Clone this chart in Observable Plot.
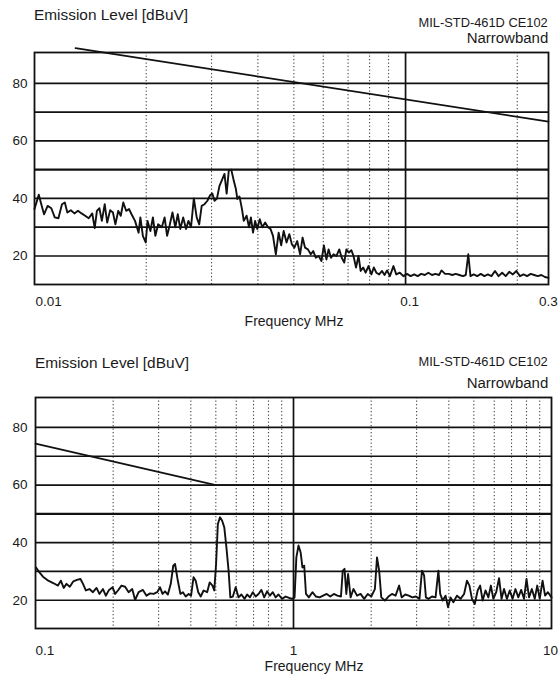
<!DOCTYPE html>
<html>
<head>
<meta charset="utf-8">
<script src="https://cdn.jsdelivr.net/npm/d3@7"></script>
<script src="https://cdn.jsdelivr.net/npm/@observablehq/plot@0.6"></script>
<style>
  html, body { margin: 0; padding: 0; background: #fff; }
  #page { position: relative; width: 559px; height: 677px; overflow: hidden; font-family: "Liberation Sans", Arial, sans-serif; color: #1a1a1a; }
  .panel { position: absolute; left: 0; }
  .t { position: absolute; white-space: nowrap; line-height: 1; }
  .l { transform-origin: left top; transform: scaleX(1.1); }
  .r { transform-origin: right top; transform: scaleX(1.07); }
</style>
</head>
<body>
<div id="page">
  <div id="top" class="panel" style="top:0px"></div>
  <div id="bottom" class="panel" style="top:338px"></div>

  <div class="t l" style="left:34px; top:7.5px; font-size:14px;">Emission Level [dBuV]</div>
  <div class="t r" style="right:11px; top:16.5px; font-size:12px;">MIL-STD-461D CE102</div>
  <div class="t r" style="right:11px; top:31px; font-size:14px;">Narrowband</div>
  <div class="t" style="left:294px; transform:translateX(-50%); top:314px; font-size:14px;">Frequency MHz</div>

  <div class="t l" style="left:35px; top:355.5px; font-size:14px;">Emission Level [dBuV]</div>
  <div class="t r" style="right:11px; top:356px; font-size:12px;">MIL-STD-461D CE102</div>
  <div class="t r" style="right:11px; top:376px; font-size:14px;">Narrowband</div>
  <div class="t" style="left:314px; transform:translateX(-50%); top:659px; font-size:14px;">Frequency MHz</div>
</div>
<script>
// ---------- Top panel (10 kHz – 0.24 MHz) ----------
const topFreq = [
  0.0100,0.01027,0.01043,0.01061,0.01085,0.01110,0.01134,0.01160,0.01186,0.01207,
  0.01226,0.01253,0.01281,0.01310,0.01339,0.01369,0.01400,0.01431,0.01453,0.01473,
  0.01496,0.01519,0.01546,0.01570,0.01599,0.01627,0.01652,0.01682,0.01708,0.01735,
  0.01766,0.01798,0.01826,0.01866,0.01908,0.01929,0.01959,0.01994,0.02017,0.02053,
  0.02085,0.02117,0.02154,0.02203,0.02242,0.02277,0.02313,0.02354,0.02396,0.02433,
  0.02471,0.02516,0.02561,0.02600,0.02641,0.02688,0.02736,0.02779,0.02822,0.02872,
  0.02924,0.02969,0.03015,0.03056,0.03103,0.03152,0.03208,0.03251,0.03295,0.03339,
  0.03391,0.03443,0.03489,0.03521,0.03568,0.03624,0.03664,0.03729,0.03787,0.03830,
  0.03881,0.03932,0.03985,0.04047,0.04110,0.04184,0.04259,0.04325,0.04393,0.04471,
  0.04550,0.04622,0.04694,0.04778,0.04862,0.04939,0.05016,0.05105,0.05197,0.05278,
  0.05360,0.05456,0.05553,0.05640,0.05728,0.05830,0.05934,0.06026,0.06119,0.06202,
  0.06298,0.06397,0.06510,0.06627,0.06730,0.06836,0.06926,0.07036,0.07145,0.07240,
  0.07354,0.07468,0.07568,0.07686,0.07806,0.07945,0.08088,0.08213,0.08341,0.08491,
  0.08642,0.08777,0.08916,0.09073,0.09276,0.09441,0.09652,0.09867,0.1009,0.1032,
  0.1055,0.1078,0.1102,0.1127,0.1152,0.1178,0.1204,0.1231,0.1250,0.1278,
  0.1307,0.1336,0.1366,0.1396,0.1428,0.1453,0.1476,0.1496,0.1526,0.1560,
  0.1595,0.1631,0.1667,0.1704,0.1742,0.1781,0.1821,0.1862,0.1903,0.1946,
  0.1989,0.2034,0.2080,0.2126,0.2174,0.2222,0.2272,0.2323,0.2375,0.2428
];
const topLevel = [
  36.3,41.3,38,34.5,37.4,36.6,33.4,33.1,38,38.6,
  35.1,35.9,34.8,35.7,34.8,34,33.1,34.8,29.7,35.7,
  36.6,32.2,38,31.6,35.9,35.1,31,35.7,34,38.6,
  35.7,36.3,34.5,32.2,28.1,33.4,27,24.7,32.2,28.7,
  33.4,27,31,30,33.4,27,30.6,35.1,30,34.5,
  29.4,33.4,29.4,32.2,30,40,33.4,31,37.4,38,
  39.2,41,41.7,39.2,40,44.4,46.7,48.5,41.7,49.7,
  50,46.2,43.3,39.8,40.7,36.3,32.2,34,30,33.4,
  28.1,32.2,29.4,32.8,30,31.6,30,29.4,27,20.6,
  28.1,23.7,28.7,24.7,27.6,24.1,22.9,25.2,20.6,26.4,
  22.9,22.3,20.6,21.7,19.4,20,18.3,23.7,18.8,22.3,
  19.4,20.6,20,22.3,19.4,17.7,22.3,21.2,22,20,
  16,20,14.8,16,14.2,16.5,13.6,16,14.2,13.6,
  14.8,13.4,15,13,16.5,13.6,14.2,13,13.8,13,
  13.6,13,13.8,13.4,14.2,13.4,13.8,13.4,15,13.8,
  13.8,13.4,13.8,13.4,13,13.4,20.6,13,13.6,13,
  13.8,13,13.6,13,14.8,13,14.2,13,14.5,13.6,
  14.8,13,13.6,13,13.8,13.4,13,13.4,12.7,12.4
];
const topLimitFreq = [0.0129, 0.2428];
const topLimitLevel = [92.2, 66.7];
const topXDomain = [0.01, 0.2428];
const topYDomain = [10.1, 90.7];
const topMinorX = [0.02,0.03,0.04,0.05,0.06,0.07,0.08,0.09,0.2];
const topMajorX = [0.1];
const topTickValues = [0.01, 0.1, 0.2428];
const topTickLabels = ["0.01", "0.1", "0.3"];

// ---------- Bottom panel (0.1 – 10 MHz) ----------
const botFreq = [
  0.1003,0.1036,0.1069,0.1121,0.1176,0.1222,0.1254,0.1286,0.1319,0.1358,
  0.1402,0.1447,0.1494,0.1528,0.1567,0.1618,0.1670,0.1724,0.1769,0.1826,
  0.1873,0.1928,0.1990,0.2035,0.2087,0.2154,0.2225,0.2296,0.2371,0.2432,
  0.2510,0.2608,0.2693,0.2780,0.2870,0.2962,0.3039,0.3108,0.3178,0.3259,
  0.3344,0.3419,0.3474,0.3552,0.3644,0.3726,0.3822,0.3921,0.4009,0.4099,
  0.4178,0.4273,0.4369,0.4482,0.4627,0.4732,0.4853,0.4931,0.5011,0.5091,
  0.5189,0.5290,0.5392,0.5495,0.5602,0.5691,0.5820,0.5969,0.6124,0.6282,
  0.6464,0.6610,0.6781,0.6955,0.7135,0.7319,0.7507,0.7701,0.7899,0.8103,
  0.8312,0.8526,0.8747,0.9030,0.9324,0.9626,0.9874,1.0095,1.0259,1.0457,
  1.0658,1.0830,1.1003,1.1179,1.1469,1.1839,1.2222,1.2618,1.3027,1.3448,
  1.3884,1.4333,1.4797,1.5276,1.5521,1.5770,1.6023,1.6280,1.6647,1.7078,
  1.7631,1.8197,1.8789,1.9396,2.0023,2.0673,2.1072,2.1478,2.1889,2.2600,
  2.3331,2.4085,2.4868,2.5672,2.6251,2.7101,2.7976,2.8886,2.9819,3.0782,
  3.1477,3.2085,3.2599,3.3335,3.4420,3.5532,3.6443,3.7035,3.7863,3.8842,
  3.9719,4.0616,4.1658,4.3010,4.4400,4.5836,4.7021,4.8083,4.9169,5.0431,
  5.1734,5.2902,5.4097,5.5485,5.6919,5.8204,5.9519,6.1046,6.2623,6.4037,
  6.5464,6.7155,6.8891,7.0662,7.2488,7.4362,7.6274,7.8246,8.0012,8.1820,
  8.3919,8.6099,8.8044,9.0032,9.2342,9.4428,9.6871,10.0
];
const botLevel = [
  31.4,29.7,28.2,26.8,25.9,25.1,26.8,24.3,25.7,24.7,
  26.6,27.1,27.4,25.7,23.4,23.9,22.8,24.3,22.2,23.9,
  21.6,23.6,24.5,22.2,23.4,25.1,24.7,22.8,23.9,20.1,
  22.8,23.6,21.6,22.4,22.2,22.8,24.5,22.2,23.1,22,
  25.7,32,32.6,27.4,22.2,22.8,21.3,22.2,21.6,28,
  26.8,22.8,21.3,23.4,22.8,26.2,25.1,23.4,32.6,46.5,
  48.8,47.6,45.3,38.4,30.3,21,21.3,24.5,21,22,
  20.5,22,21,22.8,21.3,22.2,23.6,21,23.1,21.6,
  22.8,21,22,20.5,21.3,20.8,20.5,21,34.9,39,
  36.6,31.4,32,22.2,21,22.8,21.3,21,21.6,22.2,
  21.3,22.2,21.6,21.3,30.3,30.9,22.2,29.1,21,23.9,
  21.6,22.2,20.5,22.2,21.3,23.9,34.9,30.3,21,19.9,
  21.3,22.2,21.6,25.1,21,22,21.6,21,21.3,20.5,
  30.3,28.6,21,20.5,21.3,21,30.3,22.2,19.9,21.6,
  17.6,21,19.3,21.6,20.5,22.2,26.8,25.1,20.5,18.7,
  23.4,25.1,19.9,23.4,21,25.1,20.5,22.8,27.7,20.5,
  23.9,20.5,23.4,20.5,23.9,21,23.6,20.5,27.4,21,
  23.9,20.5,25.1,20.5,26.8,21.6,22.8,21
];
const botLimitFreq = [0.1, 0.5, 10];
const botLimitLevel = [74.4, 60, 60];
const botXDomain = [0.1, 10];
const botYDomain = [10.2, 90.4];
const botMinorX = [0.2,0.3,0.4,0.5,0.6,0.7,0.8,0.9,2,3,4,5,6,7,8,9];
const botMajorX = [1];
const botTickValues = [0.1, 1, 10];
const botTickLabels = ["0.1", "1", "10"];

// ---------- shared ----------
const yGrid = [20,30,40,50,60,70,80];
const yTicks = [20,40,60,80];

const zip = (xs, ys) => xs.map((x, i) => ({f: x, v: ys[i]}));

function panel({freq, level, limF, limL, xDomain, yDomain, minorX, majorX, tickValues, tickLabels,
                height, mt, mb, ml, mr, xPad, yPad, firstDx, midDx, lastDx}) {
  const fmt = d => tickLabels[tickValues.indexOf(d)];
  const axisCommon = {tickSize: 0, tickPadding: xPad, label: null, tickFormat: fmt, fontSize: 13.5, fill: "#1a1a1a"};
  return Plot.plot({
    width: 559, height,
    marginTop: mt, marginBottom: mb, marginLeft: ml, marginRight: mr,
    style: {fontFamily: '"Liberation Sans", Arial, sans-serif', background: "white", color: "#1a1a1a", overflow: "visible"},
    x: {type: "log", domain: xDomain},
    y: {domain: yDomain},
    marks: [
      Plot.ruleX(minorX, {stroke: "#444", strokeWidth: 1.1, strokeDasharray: "1.2,2.3"}),
      Plot.ruleX(majorX, {stroke: "#111", strokeWidth: 1.7}),
      Plot.ruleY(yGrid, {stroke: "#111", strokeWidth: d => d === 50 ? 2.4 : 1.7}),
      Plot.frame({stroke: "#111", strokeWidth: 1.8}),
      Plot.line(zip(limF, limL), {x: "f", y: "v", stroke: "#111", strokeWidth: 1.7}),
      Plot.line(zip(freq, level), {x: "f", y: "v", stroke: "#111", strokeWidth: 1.9, strokeLinejoin: "round"}),
      Plot.axisY(yTicks, {tickSize: 0, tickPadding: yPad, label: null, fontSize: 13.5, fill: "#1a1a1a"}),
      Plot.axisX([tickValues[0]], {...axisCommon, textAnchor: "start", dx: firstDx}),
      Plot.axisX([tickValues[1]], {...axisCommon, dx: midDx}),
      Plot.axisX([tickValues[2]], {...axisCommon, dx: lastDx})
    ]
  });
}

document.getElementById("top").append(panel({
  freq: topFreq, level: topLevel, limF: topLimitFreq, limL: topLimitLevel,
  xDomain: topXDomain, yDomain: topYDomain, minorX: topMinorX, majorX: topMajorX,
  tickValues: topTickValues, tickLabels: topTickLabels,
  height: 338, mt: 52, mb: 54, ml: 34, mr: 11, xPad: 12, yPad: 7,
  firstDx: 1, midDx: 4, lastDx: 0
}));

document.getElementById("bottom").append(panel({
  freq: botFreq, level: botLevel, limF: botLimitFreq, limL: botLimitLevel,
  xDomain: botXDomain, yDomain: botYDomain, minorX: botMinorX, majorX: botMajorX,
  tickValues: botTickValues, tickLabels: botTickLabels,
  height: 339, mt: 59, mb: 49, ml: 35, mr: 8, xPad: 17, yPad: 8,
  firstDx: 0, midDx: 0, lastDx: -1
}));
</script>
</body>
</html>
